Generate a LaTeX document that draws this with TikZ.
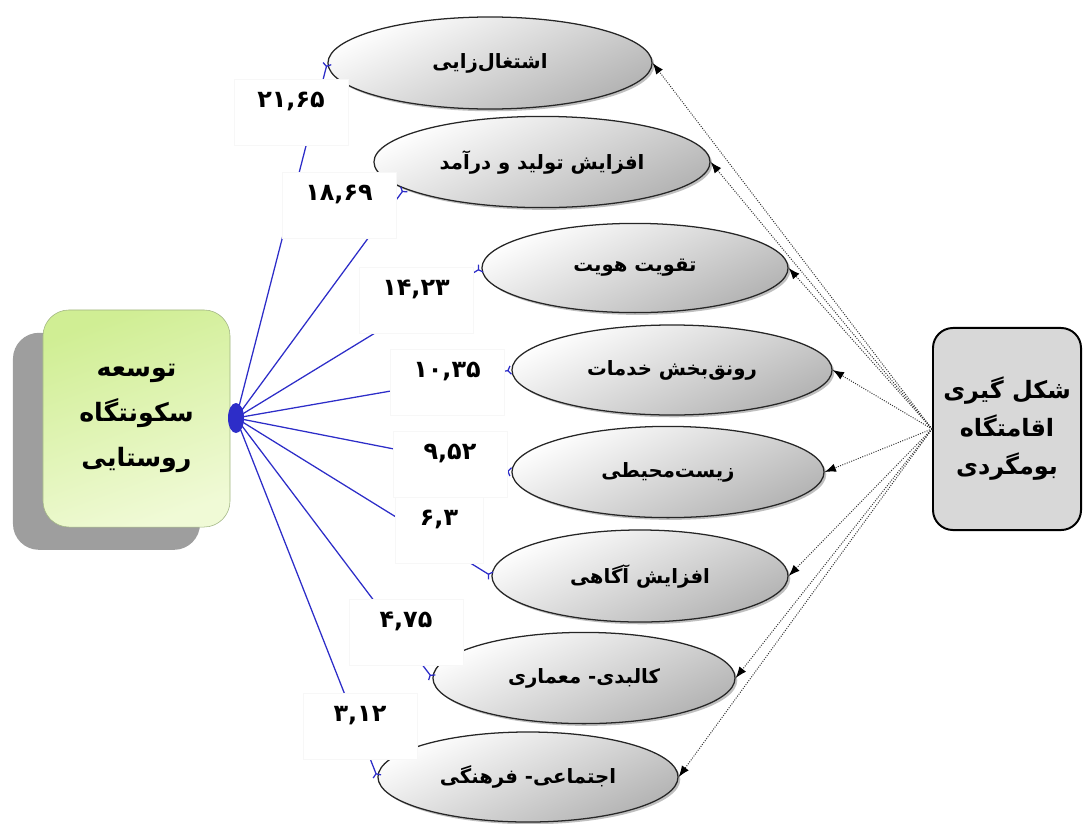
\documentclass[tikz,border=0pt]{standalone}
\usepackage{fontspec}
\usetikzlibrary{shapes.geometric,shadows,arrows.meta}
\newfontfamily\farsi[Script=Arabic]{DejaVu Sans}
\TeXXeTstate=1
\newcommand{\faline}[1]{\beginR#1\endR}
\definecolor{sidblue}{RGB}{45,45,200}
\definecolor{greentop}{RGB}{208,238,148}
\definecolor{greenbot}{RGB}{240,250,214}
\definecolor{greenline}{RGB}{160,180,130}
\definecolor{lodgegrey}{RGB}{216,216,216}

\begin{document}
\begin{tikzpicture}[x=0.025cm, y=-0.025cm,
    goalnode/.style={ellipse, draw=black!85, line width=0.9pt, top color=white, bottom color=black!30, shading angle=25,
      drop shadow={shadow xshift=1.6pt, shadow yshift=-1.6pt, opacity=.5},
      inner sep=0pt, font=\farsi\bfseries\fontsize{14}{16}\selectfont},
    valuebox/.style={fill=white, draw=black!3, minimum width=2.85cm, minimum height=1.65cm, text depth=0.6cm,
      inner sep=2pt, font=\farsi\bfseries\fontsize{17}{19}\selectfont},
    shareline/.style={sidblue, line width=0.9pt, -{Straight Barb[reversed, length=2pt, width=6pt]}},
    effectline/.style={densely dotted, black!80, line width=0.7pt, -{Latex[length=8pt, width=6pt, color=black]}}]
            \useasboundingbox (0,0) rectangle (1084,823);

            \node[rectangle, rounded corners=0.65cm, draw=greenline, top color=greentop, bottom color=greenbot, shading angle=20,
                drop shadow={shadow xshift=-0.75cm, shadow yshift=-0.57cm, fill=black!38, opacity=1},
                minimum width=4.675cm, minimum height=5.425cm, align=center,
                font=\farsi\bfseries\fontsize{18}{32}\selectfont] (rural) at (136.5,418.5)
                {\faline{توسعه}\\\faline{سکونتگاه}\\\faline{روستایی}};
            \node[rectangle, rounded corners=0.5cm, draw=black, line width=1.4pt, fill=lodgegrey,
                minimum width=3.7cm, minimum height=5.05cm, align=center,
                font=\farsi\bfseries\fontsize{17}{27}\selectfont] (lodge) at (1007,429)
                {\faline{شکل گیری}\\\faline{اقامتگاه}\\\faline{بومگردی}};
            \node[ellipse, fill=sidblue, minimum width=0.4cm, minimum height=0.75cm, inner sep=0pt] (fan) at (236,418) {};

            \node[goalnode, minimum width=8.1cm, minimum height=2.3cm] (jobs) at (490,63) {\faline{اشتغال‌زایی}};
            \node[goalnode, minimum width=8.4cm, minimum height=2.28cm] (income) at (542,162) {\faline{افزایش تولید و درآمد}};
            \node[goalnode, minimum width=7.65cm, minimum height=2.23cm] (identity) at (635,268) {\faline{تقویت هویت}};
            \node[goalnode, minimum width=8cm, minimum height=2.25cm] (services) at (672,370) {\faline{رونق‌بخش خدمات}};
            \node[goalnode, minimum width=7.8cm, minimum height=2.28cm] (environ) at (668,472) {\faline{زیست‌محیطی}};
            \node[goalnode, minimum width=7.4cm, minimum height=2.3cm] (aware) at (640,576) {\faline{افزایش آگاهی}};
            \node[goalnode, minimum width=7.55cm, minimum height=2.28cm] (physical) at (584,678) {\faline{کالبدی- معماری}};
            \node[goalnode, minimum width=7.5cm, minimum height=2.25cm] (social) at (528,777) {\faline{اجتماعی- فرهنگی}};

            \draw[shareline] (fan.center) -- (jobs.west); \draw[shareline] (fan.center) -- (income.191);
            \draw[shareline] (fan.center) -- (identity.west); \draw[shareline] (fan.center) -- (services.west);
            \draw[shareline] (fan.center) -- (environ.west); \draw[shareline] (fan.center) -- (aware.west);
            \draw[shareline] (fan.center) -- (physical.west); \draw[shareline] (fan.center) -- (social.west);

            \node[valuebox] (vjobs) at (291,112) {۲۱,۶۵};
            \node[valuebox] (vincome) at (339,205) {۱۸,۶۹};
            \node[valuebox] (videntity) at (416,300) {۱۴,۲۳};
            \node[valuebox] (vservices) at (447,382) {۱۰,۳۵};
            \node[valuebox] (venviron) at (450,464) {۹,۵۲};
            \node[valuebox, minimum width=2.2cm] (vaware) at (439,530) {۶,۳};
            \node[valuebox] (vphysical) at (406,632) {۴,۷۵};
            \node[valuebox] (vsocial) at (360,726) {۳,۱۲};

            \draw[effectline] (lodge.west) -- (jobs.east); \draw[effectline] (lodge.west) -- (income.east);
            \draw[effectline] (lodge.west) -- (identity.east); \draw[effectline] (lodge.west) -- (services.east);
            \draw[effectline] (lodge.west) -- (environ.east); \draw[effectline] (lodge.west) -- (aware.east);
            \draw[effectline] (lodge.west) -- (physical.east); \draw[effectline] (lodge.west) -- (social.east);
        \end{tikzpicture}
\end{document}
